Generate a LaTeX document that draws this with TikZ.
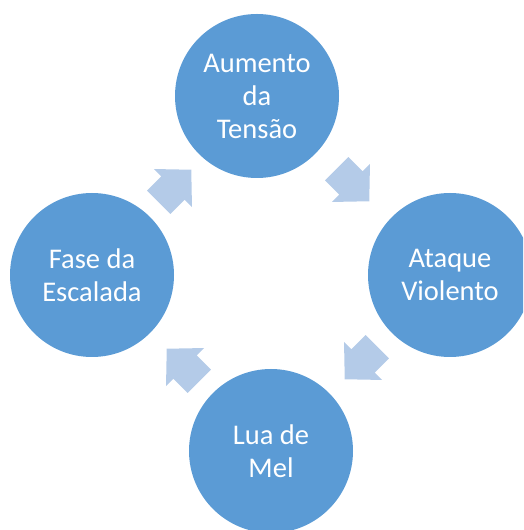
\documentclass[tikz,border=0pt]{standalone}
\usepackage{fontspec}
\setmainfont{Carlito}
\definecolor{circblue}{HTML}{5B9BD5}
\definecolor{arrblue}{HTML}{B4CBE8}
\begin{document}
\begin{tikzpicture}[x=1pt,y=1pt,
  stage/.style={circle,fill=circblue,minimum size=164pt,inner sep=0pt,
    text=white,align=center,font=\fontsize{28.5}{33}\selectfont},
  blockarrow/.pic={\fill[arrblue] (-23,-16.5) -- (-3,-16.5) -- (-3,-27) -- (23,0)
    -- (-3,27) -- (-3,16.5) -- (-23,16.5) -- cycle;}]
\useasboundingbox (0,0) rectangle (523,530);
\clip (0,0) rectangle (523,530);
\node[stage] (top) at (257,434) {Aumento\\da\\Tensão};
\node[stage] (right) at (450,255) {Ataque\\Violento};
\node[stage] (bottom) at (271,79) {Lua de\\Mel};
\node[stage] (left) at (92,255) {Fase da\\Escalada};
\pic[rotate=-45] (a1) at (353,345) {blockarrow};
\pic[rotate=-135] (a2) at (361,167) {blockarrow};
\pic[rotate=135] (a3) at (183,165) {blockarrow};
\pic[rotate=45] (a4) at (175,344) {blockarrow};
\end{tikzpicture}
\end{document}
